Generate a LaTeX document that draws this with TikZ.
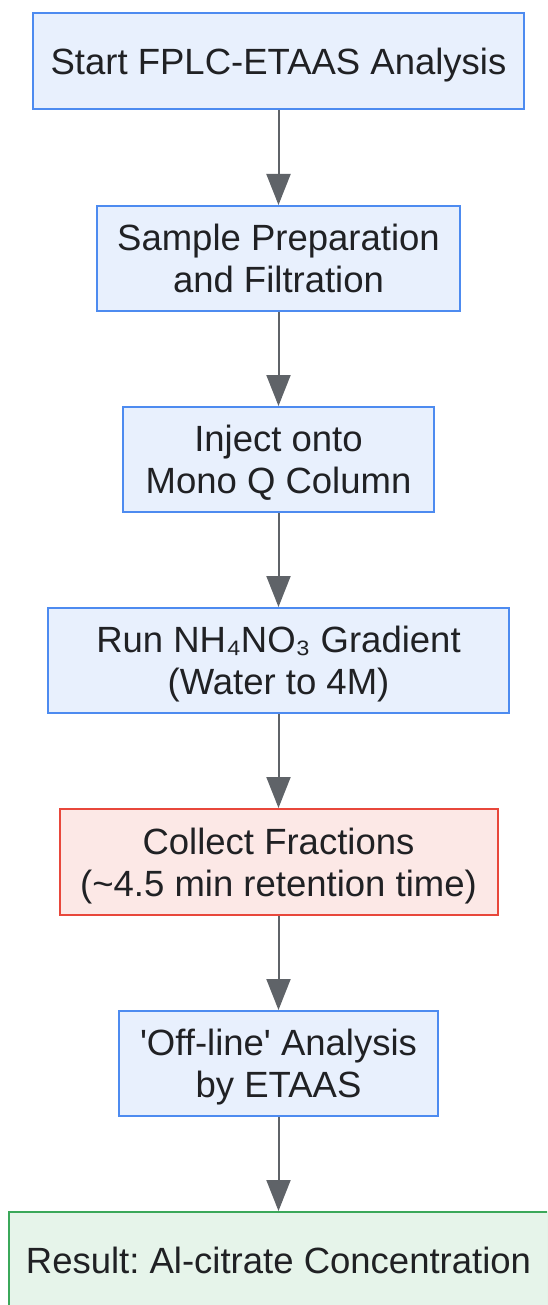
\documentclass[tikz,border=0pt]{standalone}
\usepackage{fontspec}
\setmainfont{Liberation Sans}
\usetikzlibrary{arrows.meta}
\frenchspacing
\definecolor{bluefill}{HTML}{E8F0FD}
\definecolor{blueline}{HTML}{4D8BF0}
\definecolor{redfill}{HTML}{FCE8E6}
\definecolor{redline}{HTML}{E8473B}
\definecolor{greenfill}{HTML}{E6F4EA}
\definecolor{greenline}{HTML}{3BA85A}
\definecolor{txt}{HTML}{202124}
\definecolor{arr}{HTML}{5F6368}
\tikzset{
  box/.style={draw=blueline, fill=bluefill, line width=2pt, inner sep=0pt, align=center,
    text=txt, text depth=-2pt, font=\fontsize{36.5}{42}\selectfont},
  redbox/.style={box, draw=redline, fill=redfill},
  greenbox/.style={box, draw=greenline, fill=greenfill},
  conn/.style={draw=arr, line width=2pt, -{Triangle[width=24pt,length=31pt]}}
}
\begin{document}
\begin{tikzpicture}[x=1pt,y=1pt]
\clip (0,0) rectangle (547,-1305);
\node[box, minimum width=491pt, minimum height=96pt] (n1) at (278.5,-61) {Start FPLC-ETAAS Analysis};
\node[box, minimum width=363pt, minimum height=105pt] (n2) at (278.5,-258.5) {Sample Preparation\\and Filtration};
\node[box, minimum width=311pt, minimum height=105pt] (n3) at (278.5,-459.5) {Inject onto\\Mono Q Column};
\node[box, minimum width=461pt, minimum height=105pt] (n4) at (278.5,-660.5) {Run NH₄NO₃ Gradient\\(Water to 4M)};
\node[redbox, minimum width=438pt, minimum height=106pt] (n5) at (278.5,-862) {Collect Fractions\\(\textasciitilde 4.5 min retention time)};
\node[box, minimum width=319pt, minimum height=105pt] (n6) at (278.5,-1063.5) {\textquotesingle Off-line\textquotesingle\ Analysis\\by ETAAS};
\node[greenbox, minimum width=539pt, minimum height=96pt] (n7) at (278.5,-1260) {Result: Al-citrate Concentration};
\draw[conn] (n1) -- (n2);
\draw[conn] (n2) -- (n3);
\draw[conn] (n3) -- (n4);
\draw[conn] (n4) -- (n5);
\draw[conn] (n5) -- (n6);
\draw[conn] (n6) -- (n7);
\end{tikzpicture}
\end{document}
